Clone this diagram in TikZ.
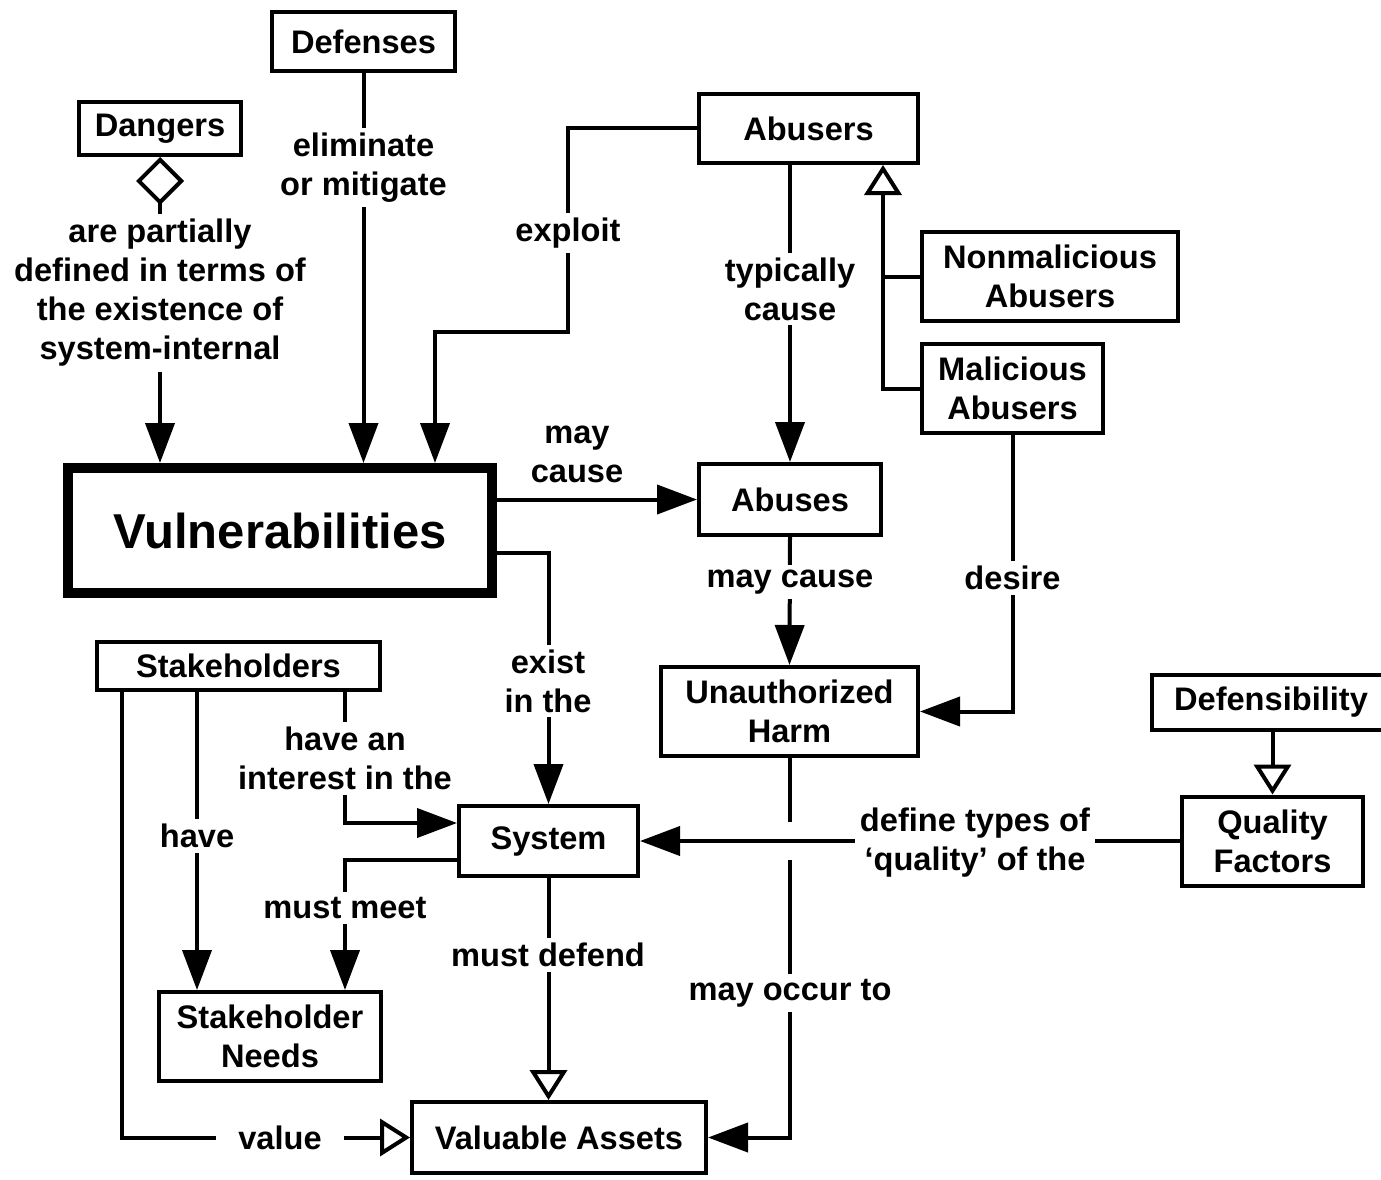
\documentclass[tikz,border=0pt]{standalone}
\usepackage{fontspec}
\setmainfont{Liberation Sans}
\usetikzlibrary{arrows.meta}
\begin{document}
\begin{tikzpicture}[x=1pt,y=-1pt,
  every node/.style={font=\fontsize{32.6}{39}\selectfont\bfseries},
  box/.style={draw, line width=4pt, align=center, inner sep=0pt, fill=white},
  lab/.style={fill=white, align=center, inner sep=5pt},
  con/.style={line width=4pt},
  fa/.style={-{Triangle[length=40pt,width=29pt]}},
  oa/.style={-{Triangle[open,length=30pt,width=37pt]}},
]
\path[use as bounding box, fill=white] (0,0) rectangle (1381,1180);

% boxes
\node[box, minimum width=183pt, minimum height=59pt] (def) at (363.5,41.5) {Defenses};
\node[box, minimum width=162pt, minimum height=53pt] (dang) at (160,128.5) {Dangers};
\node[box, minimum width=219pt, minimum height=69pt] (abusers) at (808.5,128.5) {Abusers};
\node[box, minimum width=256pt, minimum height=89pt] (nonmal) at (1050,276.5) {Nonmalicious\\Abusers};
\node[box, minimum width=181pt, minimum height=89pt] (mal) at (1012.5,388.5) {Malicious\\Abusers};
\node[box, line width=10pt, minimum width=424pt, minimum height=125pt,
      font=\fontsize{49}{58}\selectfont\bfseries] (vuln) at (280,530.5) {Vulnerabilities};
\node[box, minimum width=182pt, minimum height=71pt] (abuses) at (790,499.5) {Abuses};
\node[box, minimum width=257pt, minimum height=89pt] (harm) at (789.5,711.5) {Unauthorized\\Harm};
\node[box, minimum width=283pt, minimum height=48pt] (stake) at (238.5,666) {Stakeholders};
\node[box, minimum width=238pt, minimum height=55pt] (defens) at (1271,702.5) {Defensibility};
\node[box, minimum width=181pt, minimum height=89pt] (quality) at (1272.5,841) {Quality\\Factors};
\node[box, minimum width=179pt, minimum height=70pt] (system) at (548.5,841) {System};
\node[box, minimum width=222pt, minimum height=89pt] (needs) at (270,1036.5) {Stakeholder\\Needs};
\node[box, minimum width=294pt, minimum height=71pt] (assets) at (559,1137.5) {Valuable Assets};

% helper coordinates
\coordinate (ex1) at (568,332);
\coordinate (ex2) at (435,0);
\coordinate (inh) at (883,0);
\coordinate (exist) at (0,553);
\coordinate (s1) at (122,0);
\coordinate (s2) at (197,0);
\coordinate (si) at (345,823);
\coordinate (mm) at (345,860);
\coordinate (qa) at (1272.5,0);

% connectors
\draw[con, {Diamond[open,length=48pt,width=48pt]}-{Triangle[length=40pt,width=29pt]}]
  (dang.south) -- (dang.south |- vuln.north);
\draw[con, fa] (def.south) -- (def.south |- vuln.north);
\draw[con, fa] (abusers.west) -| (ex1) -| (ex2 |- vuln.north);
\draw[con, fa] (abuses.north |- abusers.south) -- (abuses.north);
\draw[con] (nonmal.west) -- (inh |- nonmal.west);
\draw[con, oa] (mal.west) -| (inh |- abusers.south);
\draw[con, fa] (vuln.east |- abuses.west) -- (abuses.west);
\draw[con, fa] (vuln.east |- exist) -| (system.north);
\draw[con, fa] (abuses.south) -- (harm.north);
\draw[con, fa] (mal.south) |- (harm.east);
\draw[con, oa] (qa |- defens.south) -- (quality.north);
\draw[con, fa] (harm.south) |- (assets.east);
\node[fill=white, minimum width=14pt, minimum height=38pt, inner sep=0pt] (gap) at (harm.south |- quality.west) {};
\draw[con, fa] (quality.west) -- (system.east);
\draw[con, oa] (s1 |- stake.south) |- (assets.west);
\draw[con, fa] (s2 |- stake.south) -- (s2 |- needs.north);
\draw[con, fa] (si |- stake.south) |- (system.west |- si);
\draw[con, fa] (system.west |- mm) -| (mm |- needs.north);
\draw[con, oa] (system.south) -- (system.south |- assets.north);

% labels
\node[lab] (l1) at (160,293) {are partially\\defined in terms of\\the existence of\\system-internal};
\node[lab] (l2) at (363.5,167.5) {eliminate\\or mitigate};
\node[lab] (l3) at (568,233) {exploit};
\node[lab] (l4) at (790,289) {typically\\cause};
\node[lab, fill=none] (l5) at (577,454) {may\\cause};
\node[lab] (l6) at (548,681) {exist\\in the};
\node[lab] (l7) at (790,582) {may cause};
\node[lab] (l8) at (1012.5,578) {desire};
\node[lab] (l9) at (975,843) {define types of\\‘quality’ of the};
\node[lab] (l10) at (790,993) {may occur to};
\node[lab] (l11) at (345,758.5) {have an\\interest in the};
\node[lab] (l12) at (197,836) {have};
\node[lab] (l13) at (345,908) {must meet};
\node[lab] (l14) at (548,955) {must defend};
\node[lab, inner xsep=22pt] (l15) at (280,1138) {value};
\end{tikzpicture}
\end{document}
